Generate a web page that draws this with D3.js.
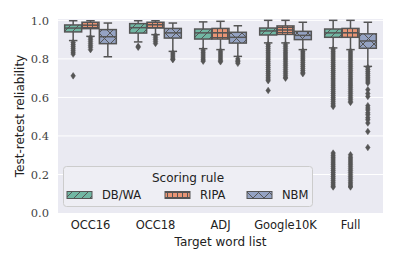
<!DOCTYPE html>
<html>
<head>
<meta charset="utf-8">
<script src="https://cdn.jsdelivr.net/npm/d3@7"></script>
<style>
  body { margin: 0; background: #fff; }
  svg { display: block; }
</style>
</head>
<body>
<div id="main"></div>
<script>

const categories = ['OCC16', 'OCC18', 'ADJ', 'Google10K', 'Full'];
const rules = ['DB/WA', 'RIPA', 'NBM'];
const yTicks = [0.0, 0.2, 0.4, 0.6, 0.8, 1.0];

// [whisker low, q1, median, q3, whisker high] per category
const dbwaStats = [
    [0.895, 0.940, 0.960, 0.976, 0.998],
    [0.888, 0.934, 0.962, 0.983, 0.998],
    [0.853, 0.903, 0.935, 0.955, 0.992],
    [0.883, 0.924, 0.945, 0.960, 1.000],
    [0.857, 0.912, 0.935, 0.955, 1.000]
];
const ripaStats = [
    [0.917, 0.957, 0.975, 0.990, 0.998],
    [0.926, 0.960, 0.977, 0.990, 0.998],
    [0.848, 0.903, 0.935, 0.958, 0.995],
    [0.883, 0.927, 0.950, 0.971, 1.000],
    [0.848, 0.912, 0.935, 0.958, 1.000]
];
const nbmStats = [
    [0.811, 0.879, 0.915, 0.952, 0.986],
    [0.839, 0.908, 0.935, 0.958, 0.986],
    [0.813, 0.882, 0.912, 0.938, 0.972],
    [0.848, 0.900, 0.922, 0.943, 0.990],
    [0.761, 0.855, 0.893, 0.930, 0.990]
];

const dbwaOutliers = [
    [0.885, 0.875, 0.865, 0.855, 0.845, 0.835, 0.825, 0.712],
    [0.865, 0.860],
    [0.845, 0.835, 0.825, 0.815, 0.805, 0.795, 0.788],
    [0.875, 0.865, 0.855, 0.845, 0.835, 0.825, 0.815, 0.805, 0.795, 0.785, 0.775, 0.765,
     0.755, 0.745, 0.735, 0.725, 0.715, 0.705, 0.695, 0.687, 0.636],
    [0.850, 0.840, 0.830, 0.820, 0.810, 0.800, 0.790, 0.780, 0.770, 0.760, 0.750, 0.740,
     0.730, 0.720, 0.710, 0.700, 0.690, 0.680, 0.670, 0.660, 0.650, 0.640, 0.630, 0.620,
     0.610, 0.600, 0.590, 0.580, 0.570, 0.560, 0.553,
     0.311, 0.300, 0.290, 0.280, 0.270, 0.260, 0.250, 0.240, 0.230, 0.220, 0.210, 0.200,
     0.190, 0.180, 0.170, 0.160, 0.150, 0.140, 0.135]
];
const ripaOutliers = [
    [0.910, 0.900, 0.890, 0.880, 0.870, 0.860, 0.848],
    [0.920, 0.910, 0.900, 0.890, 0.880],
    [0.840, 0.830, 0.820, 0.810, 0.800, 0.790, 0.785],
    [0.875, 0.865, 0.855, 0.845, 0.835, 0.825, 0.815, 0.805, 0.795, 0.785, 0.775, 0.765,
     0.755, 0.745, 0.735, 0.725, 0.715, 0.705, 0.700],
    [0.840, 0.830, 0.820, 0.810, 0.800, 0.790, 0.780, 0.770, 0.760, 0.750, 0.740, 0.730,
     0.720, 0.710, 0.700, 0.690, 0.680, 0.670, 0.660, 0.650, 0.640, 0.630, 0.620, 0.610,
     0.600, 0.590, 0.580, 0.574,
     0.302, 0.290, 0.280, 0.270, 0.260, 0.250, 0.240, 0.230, 0.220, 0.210, 0.200, 0.190,
     0.180, 0.170, 0.160, 0.150, 0.140, 0.135]
];
const nbmOutliers = [
    [],
    [0.830, 0.820, 0.810, 0.800, 0.796],
    [0.800, 0.790, 0.785, 0.777],
    [0.840, 0.830, 0.820, 0.810, 0.800, 0.790, 0.780, 0.770, 0.760, 0.750, 0.740, 0.730, 0.723],
    [0.755, 0.745, 0.735, 0.725, 0.715, 0.705, 0.695, 0.685, 0.675, 0.640, 0.620, 0.605,
     0.557, 0.545, 0.535, 0.520, 0.510, 0.495, 0.484, 0.467, 0.423, 0.340]
];

const colors = ['#71b7a3', '#e99575', '#95a3c3'];
const hatches = ['diag', 'plus', 'cross'];
const gray = '#555555';

const w = 399, h = 266;
const m = { left: 58, right: 16, top: 19, bottom: 53 };

const svg = d3.select('#main').append('svg').attr('width', w).attr('height', h);

// hatch patterns
const defs = svg.append('defs');
colors.forEach((c, i) => {
    const id = hatches[i];
    let size = i == 0 ? 8 : (i == 1 ? 5 : 11);
    const p = defs.append('pattern').attr('id', id).attr('patternUnits', 'userSpaceOnUse')
        .attr('width', size).attr('height', size);
    p.append('rect').attr('width', size).attr('height', size).attr('fill', c);
    if (i == 0) {
        p.append('path').attr('d', `M0,${size}L${size},0M-2,2L2,-2M${size - 2},${size + 2}L${size + 2},${size - 2}`)
            .attr('stroke', gray).attr('stroke-width', 1);
    } else if (i == 1) {
        p.append('path').attr('d', `M2.5,0V${size}M0,2.5H${size}`).attr('stroke', gray).attr('stroke-width', 1);
    } else {
        p.append('path').attr('d', `M0,0L${size},${size}M0,${size}L${size},0`).attr('stroke', gray).attr('stroke-width', 1);
    }
});

const g = svg.append('g');

const pw = w - m.left - m.right;
const ph = h - m.top - m.bottom;

g.append('rect').attr('x', m.left).attr('y', m.top).attr('width', pw).attr('height', ph).attr('fill', '#eaeaf2');

const xScale = d3.scaleBand().domain(categories).range([m.left, m.left + pw]);
const xHue = d3.scaleBand().domain(rules).range([0.1 * xScale.bandwidth(), 0.9 * xScale.bandwidth()]);
const yScale = d3.scaleLinear().domain([0, 1.007]).range([m.top + ph, m.top]);

// grid
g.append('g').selectAll('line').data(yTicks.slice(1)).enter().append('line')
    .attr('x1', m.left).attr('x2', m.left + pw)
    .attr('y1', d => yScale(d)).attr('y2', d => yScale(d))
    .attr('stroke', '#fff').attr('stroke-width', 1);

// y axis
const yAxis = d3.axisLeft(yScale).tickValues(yTicks).tickFormat(d3.format('.1f')).tickSize(0).tickPadding(9);
const ya = g.append('g').attr('transform', `translate(${m.left},0)`).call(yAxis);
ya.select('.domain').remove();
ya.selectAll('text').attr('font-family', 'DejaVu Serif').attr('font-size', 11.5).attr('fill', '#444');

// x axis
const xAxis = d3.axisBottom(xScale).tickSize(0).tickPadding(8);
const xa = g.append('g').attr('transform', `translate(0,${m.top + ph})`).call(xAxis);
xa.select('.domain').remove();
xa.selectAll('text').attr('font-family', 'DejaVu Sans').attr('font-size', 11.5).attr('fill', '#222');

// axis labels
g.append('text').text('Target word list')
    .attr('x', m.left + pw / 2).attr('y', 246)
    .attr('text-anchor', 'middle').attr('font-family', 'DejaVu Sans').attr('font-size', 12).attr('fill', '#222');
g.append('text').text('Test-retest reliability')
    .attr('transform', `translate(24,${m.top + ph / 2}) rotate(-90)`)
    .attr('text-anchor', 'middle').attr('font-family', 'DejaVu Sans').attr('font-size', 12).attr('fill', '#222');

// boxes
const allStats = [dbwaStats, ripaStats, nbmStats];
const allOut = [dbwaOutliers, ripaOutliers, nbmOutliers];
const bw = xHue.bandwidth() * 0.98;
const diamond = 'M0,-3.3L2.3,0L0,3.3L-2.3,0Z';

rules.forEach((r, ri) => {
    const grp = g.append('g').attr('class', 'rule');
    categories.forEach((c, ci) => {
        const s = allStats[ri][ci];
        const cx = xScale(c) + xHue(r) + xHue.bandwidth() / 2;
        const bx = grp.append('g');
        // whiskers
        bx.append('line').attr('x1', cx).attr('x2', cx).attr('y1', yScale(s[0])).attr('y2', yScale(s[1]))
            .attr('stroke', gray).attr('stroke-width', 1.5);
        bx.append('line').attr('x1', cx).attr('x2', cx).attr('y1', yScale(s[3])).attr('y2', yScale(s[4]))
            .attr('stroke', gray).attr('stroke-width', 1.5);
        bx.append('line').attr('x1', cx - bw / 4).attr('x2', cx + bw / 4).attr('y1', yScale(s[0])).attr('y2', yScale(s[0]))
            .attr('stroke', gray).attr('stroke-width', 1.5);
        bx.append('line').attr('x1', cx - bw / 4).attr('x2', cx + bw / 4).attr('y1', yScale(s[4])).attr('y2', yScale(s[4]))
            .attr('stroke', gray).attr('stroke-width', 1.5);
        // box
        bx.append('rect').attr('x', cx - bw / 2).attr('width', bw)
            .attr('y', yScale(s[3])).attr('height', yScale(s[1]) - yScale(s[3]))
            .attr('fill', `url(#${hatches[ri]})`).attr('stroke', gray).attr('stroke-width', 1.5);
        // median
        bx.append('line').attr('x1', cx - bw / 2).attr('x2', cx + bw / 2).attr('y1', yScale(s[2])).attr('y2', yScale(s[2]))
            .attr('stroke', gray).attr('stroke-width', 1.5);
        // outliers
        bx.selectAll('path.flier').data(allOut[ri][ci]).enter().append('path')
            .attr('class', 'flier').attr('d', diamond)
            .attr('transform', d => `translate(${cx},${yScale(d)})`)
            .attr('fill', gray).attr('stroke', gray).attr('stroke-width', 0.5);
    });
});

// legend
const legend = g.append('g').attr('id', 'legend');
legend.append('rect').attr('x', 63.5).attr('y', 166.5).attr('width', 249).attr('height', 40).attr('rx', 3)
    .attr('fill', '#eeeef4').attr('stroke', '#cccccc').attr('stroke-width', 1);
legend.append('text').text('Scoring rule').attr('x', 188).attr('y', 182)
    .attr('text-anchor', 'middle').attr('font-family', 'DejaVu Sans').attr('font-size', 12).attr('fill', '#222');
const legX = [67, 165, 247];
rules.forEach((r, i) => {
    legend.append('rect').attr('x', legX[i]).attr('y', 191.5).attr('width', 25).attr('height', 7)
        .attr('fill', `url(#${hatches[i]})`).attr('stroke', gray).attr('stroke-width', 1);
    legend.append('text').text(r).attr('x', legX[i] + 35).attr('y', 199)
        .attr('font-family', 'DejaVu Sans').attr('font-size', 11.5).attr('fill', '#222');
});

</script>
</body>
</html>
